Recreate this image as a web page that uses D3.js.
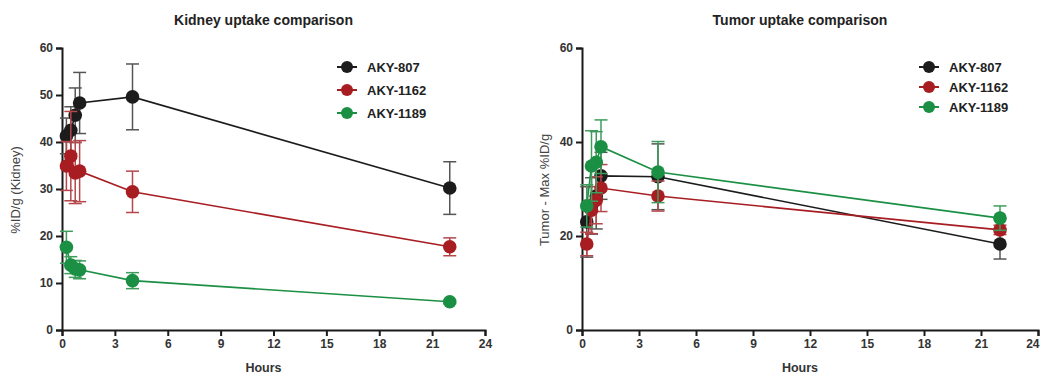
<!DOCTYPE html>
<html>
<head>
<meta charset="utf-8">
<script src="https://cdn.jsdelivr.net/npm/d3@7"></script>
<style>
  body { margin: 0; background: #fff; }
  svg { font-family: "Liberation Sans", Arial, sans-serif; }
  .tick text { font-weight: bold; font-size: 12px; fill: #333; }
  .axis path, .axis line { stroke: #1a1a1a; stroke-width: 2px; }
</style>
</head>
<body>
<svg id="chart" width="1040" height="376"></svg>
<script>
var hours = [0.25, 0.5, 0.75, 1, 4, 22];
var seriesNames = ["AKY-807", "AKY-1162", "AKY-1189"];
var colors = ["#1c1c1c", "#a81d22", "#1b9044"];
var errColors = ["#555555", "#b5474b", "#3e9c5c"];

// kidney %ID/g, mean and SD
var kidney807 = [41.3, 42.5, 45.7, 48.3, 49.6, 30.2];
var kidney1162 = [34.9, 37.0, 33.4, 33.8, 29.4, 17.7];
var kidney1189 = [17.6, 13.8, 13.0, 12.8, 10.5, 6.0];
var kidney807Sd = [3.8, 5.0, 5.8, 6.5, 7.0, 5.6];
var kidney1162Sd = [5.2, 9.5, 6.5, 6.5, 4.4, 1.9];
var kidney1189Sd = [3.4, 1.8, 1.8, 1.9, 1.7, 0.4];

// tumor - max %ID/g, mean and SD
var tumor807 = [23.0, 26.4, 28.5, 32.8, 32.6, 18.3];
var tumor1162 = [18.3, 25.5, 27.6, 30.2, 28.5, 21.3];
var tumor1189 = [26.4, 34.9, 35.7, 39.0, 33.6, 23.8];
var tumor807Sd = [7.5, 6.0, 7.0, 5.0, 7.0, 3.2];
var tumor1162Sd = [2.5, 5.0, 5.0, 5.0, 3.2, 1.0];
var tumor1189Sd = [4.5, 7.5, 6.5, 5.7, 6.5, 2.6];

var xTicks = [0, 3, 6, 9, 12, 15, 18, 21, 24];
var kidneyTicks = [0, 10, 20, 30, 40, 50, 60];
var tumorTicks = [0, 20, 40, 60];

var svg = d3.select("#chart");

function drawPanel(opt) {
  var x = d3.scaleLinear().domain([0, 24]).range([opt.left, opt.right]);
  var y = d3.scaleLinear().domain([0, 60]).range([330, 48]);
  var g = svg.append("g");

  var xAxis = g.append("g").attr("class", "axis")
    .attr("transform", "translate(0,330)")
    .call(d3.axisBottom(x).tickValues(xTicks).tickSize(6).tickPadding(3).tickFormat(d3.format("d")));
  // keep the last label inside the page
  xAxis.selectAll(".tick text").filter(function(d) { return x(d) > 1030; })
    .attr("text-anchor", "end").attr("dx", 1);
  g.append("g").attr("class", "axis")
    .attr("transform", "translate(" + opt.left + ",0)")
    .call(d3.axisLeft(y).tickValues(opt.yTicks).tickSize(6).tickPadding(3).tickFormat(d3.format("d")));

  g.append("text")
    .attr("x", (opt.left + opt.right) / 2 - 10).attr("y", 25)
    .attr("text-anchor", "middle")
    .style("font-weight", "bold").style("font-size", "14px").style("fill", "#222")
    .text(opt.title);
  g.append("text")
    .attr("x", (opt.left + opt.right) / 2 - 10).attr("y", 372)
    .attr("text-anchor", "middle")
    .style("font-weight", "bold").style("font-size", "12.5px").style("fill", "#333")
    .text("Hours");
  g.append("text")
    .attr("transform", "translate(" + opt.yLabelX + ",190) rotate(-90)")
    .attr("text-anchor", "middle")
    .style("font-size", "13px").style("fill", "#444")
    .text(opt.yLabel);

  var line = d3.line().x(function(d) { return x(d[0]); }).y(function(d) { return y(d[1]); });

  opt.series.forEach(function(s, k) {
    var pts = hours.map(function(h, i) { return [h, s.mean[i], s.sd[i]]; });
    var sg = g.append("g");
    sg.append("path").datum(pts)
      .attr("d", line).attr("fill", "none")
      .attr("stroke", colors[k]).attr("stroke-width", 1.6);
    var eb = sg.selectAll(".eb").data(pts).enter().append("g");
    eb.append("line")
      .attr("x1", function(d) { return x(d[0]); }).attr("x2", function(d) { return x(d[0]); })
      .attr("y1", function(d) { return y(d[1] + d[2]); }).attr("y2", function(d) { return y(d[1] - d[2]); })
      .attr("stroke", errColors[k]).attr("stroke-width", 1.5);
    [1, -1].forEach(function(sign) {
      eb.append("line")
        .attr("x1", function(d) { return x(d[0]) - 6.5; }).attr("x2", function(d) { return x(d[0]) + 6.5; })
        .attr("y1", function(d) { return y(d[1] + sign * d[2]); }).attr("y2", function(d) { return y(d[1] + sign * d[2]); })
        .attr("stroke", errColors[k]).attr("stroke-width", 1.5);
    });
    sg.selectAll("circle").data(pts).enter().append("circle")
      .attr("cx", function(d) { return x(d[0]); })
      .attr("cy", function(d) { return y(d[1]); })
      .attr("r", 6.8).attr("fill", colors[k]);
  });

  // legend
  seriesNames.forEach(function(name, k) {
    var ly = 67 + k * opt.legendGap;
    g.append("line").attr("x1", opt.legendX - 10).attr("x2", opt.legendX + 10)
      .attr("y1", ly).attr("y2", ly).attr("stroke", colors[k]).attr("stroke-width", 2);
    g.append("circle").attr("cx", opt.legendX).attr("cy", ly).attr("r", 6).attr("fill", colors[k]);
    g.append("text").attr("x", opt.legendX + 20).attr("y", ly + 5)
      .style("font-weight", "bold").style("font-size", "13px").style("fill", "#222")
      .text(name);
  });
}

drawPanel({
  left: 62, right: 485, yTicks: kidneyTicks,
  title: "Kidney uptake comparison", yLabel: "%ID/g (Kidney)", yLabelX: 20,
  legendX: 347, legendGap: 23,
  series: [
    { mean: kidney807, sd: kidney807Sd },
    { mean: kidney1162, sd: kidney1162Sd },
    { mean: kidney1189, sd: kidney1189Sd }
  ]
});

drawPanel({
  left: 582, right: 1038, yTicks: tumorTicks,
  title: "Tumor uptake comparison", yLabel: "Tumor - Max %ID/g", yLabelX: 549,
  legendX: 929, legendGap: 20,
  series: [
    { mean: tumor807, sd: tumor807Sd },
    { mean: tumor1162, sd: tumor1162Sd },
    { mean: tumor1189, sd: tumor1189Sd }
  ]
});
</script>
</body>
</html>
